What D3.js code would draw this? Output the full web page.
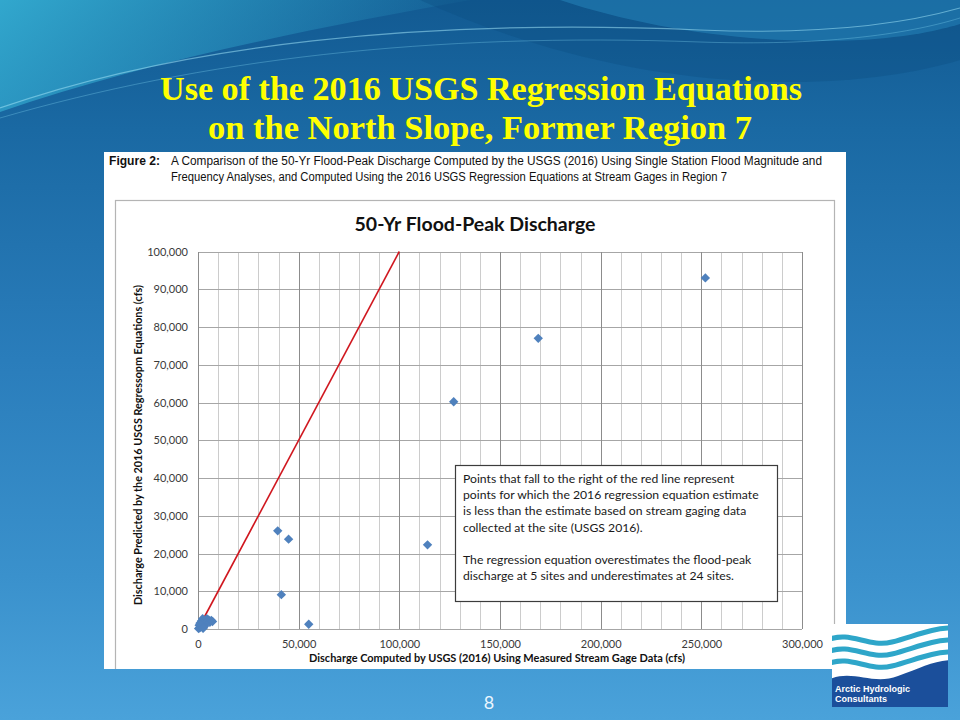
<!DOCTYPE html>
<html>
<head>
<meta charset="utf-8">
<script src="https://cdn.jsdelivr.net/npm/d3@7"></script>
<style>
  html, body { margin: 0; padding: 0; background: #1f6fa8; }
  svg { display: block; }
</style>
</head>
<body>
<svg id="slide" width="960" height="720"></svg>
<script>
// 50-yr flood peak at Region 7 stream gages (cfs):
// value from the single-station frequency analysis vs. value from the 2016 regression equations
const gagedQ50 = [
  252000, 169000, 127000, 114000, 39600, 45000, 41400, 55000,
  300, 600, 900, 1100, 1400, 1700, 2000, 2300, 2600, 2900, 3300,
  3600, 4000, 4400, 4800, 5300, 5900, 6600, 7200, 1000, 2500
];
const regressionQ50 = [
  93000, 77000, 60200, 22300, 26000, 23800, 9100, 1250,
  100, 1000, 300, 1600, 700, 2100, 1200, 2700, 300, 1900, 800,
  2300, 1500, 2700, 2000, 2400, 1800, 2300, 2000, 1300, 200
];

// One-to-one line (regression estimate equals gage estimate)
const equalityX = [0, 100000];
const equalityY = [0, 100000];

const xTickValues = [0, 50000, 100000, 150000, 200000, 250000, 300000];
const xMinorValues = d3.range(0, 300001, 10000);
const yTickValues = d3.range(0, 100001, 10000);

const slideTitle = ["Use of the 2016 USGS Regression Equations", "on the North Slope, Former Region 7"];
const figureLabel = "Figure 2:";
const captionLines = [
  "A Comparison of the 50-Yr Flood-Peak Discharge Computed by the USGS (2016) Using Single Station Flood Magnitude and",
  "Frequency Analyses, and Computed Using the 2016 USGS Regression Equations at Stream Gages in Region 7"
];
const chartTitle = "50-Yr Flood-Peak Discharge";
const xAxisTitle = "Discharge Computed by USGS (2016) Using Measured Stream Gage Data (cfs)";
const yAxisTitle = "Discharge Predicted by the 2016 USGS Regressopm Equations (cfs)";
const noteLines = [
  "Points that fall to the right of the red line represent",
  "points for which the 2016 regression equation estimate",
  "is less than the estimate based on stream gaging data",
  "collected at the site (USGS 2016).",
  "",
  "The regression equation overestimates the flood-peak",
  "discharge at 5 sites and underestimates at 24 sites."
];
const pageNumber = "8";
const logoLines = ["Arctic Hydrologic", "Consultants"];

const svg = d3.select("#slide");
const defs = svg.append("defs");

// ---------- slide background ----------
const bg = defs.append("linearGradient").attr("id", "bgGrad")
  .attr("x1", 0).attr("y1", 0).attr("x2", 0).attr("y2", 1);
[["0", "#125a92"], ["0.18", "#1a69a3"], ["0.5", "#2a7dbb"], ["0.8", "#3a91cc"], ["1", "#4aa2da"]]
  .forEach(([o, c]) => bg.append("stop").attr("offset", o).attr("stop-color", c));
svg.append("rect").attr("width", 960).attr("height", 720).attr("fill", "url(#bgGrad)");

const glow = defs.append("linearGradient").attr("id", "glowGrad")
  .attr("x1", 0).attr("y1", 0).attr("x2", 1).attr("y2", 0.3);
glow.append("stop").attr("offset", "0").attr("stop-color", "#35b0d4").attr("stop-opacity", 0.9);
glow.append("stop").attr("offset", "1").attr("stop-color", "#35b0d4").attr("stop-opacity", 0);
svg.append("path")
  .attr("d", "M0,0 L470,0 C330,25 150,60 0,112 Z")
  .attr("fill", "url(#glowGrad)");

svg.append("path")
  .attr("d", "M420,0 C520,45 640,80 780,82 C860,83 920,72 960,60 L960,0 Z")
  .attr("fill", "#0c4c82").attr("opacity", 0.35);
svg.append("path")
  .attr("d", "M560,0 C650,30 760,45 860,40 C910,37 940,30 960,24 L960,0 Z")
  .attr("fill", "#2b8ec4").attr("opacity", 0.45);

const swoosh = svg.append("g").attr("fill", "none");
swoosh.append("path").attr("d", "M0,108 C180,45 420,18 700,30 C820,35 900,25 960,8")
  .attr("stroke", "#9fe2f5").attr("stroke-opacity", 0.55).attr("stroke-width", 1.2);
swoosh.append("path").attr("d", "M0,118 C200,60 430,32 700,42 C820,46 905,35 960,18")
  .attr("stroke", "#7fd0ee").attr("stroke-opacity", 0.35).attr("stroke-width", 1);

// ---------- slide title ----------
const titleG = svg.append("g")
  .attr("font-family", "'Liberation Serif', 'DejaVu Serif', serif")
  .attr("font-weight", "bold").attr("font-size", 33).attr("fill", "#ffff00")
  .attr("text-anchor", "middle");
titleG.append("text").attr("x", 481).attr("y", 100).attr("textLength", 642)
  .attr("lengthAdjust", "spacingAndGlyphs").text(slideTitle[0]);
titleG.append("text").attr("x", 480).attr("y", 139).attr("textLength", 544)
  .attr("lengthAdjust", "spacingAndGlyphs").text(slideTitle[1]);

// ---------- figure panel ----------
const panel = { x: 104, y: 152, w: 742, h: 517 };
defs.append("clipPath").attr("id", "panelClip").append("rect")
  .attr("x", panel.x).attr("y", panel.y).attr("width", panel.w).attr("height", panel.h);
svg.append("rect").attr("x", panel.x).attr("y", panel.y).attr("width", panel.w).attr("height", panel.h)
  .attr("fill", "#ffffff");

const fig = svg.append("g").attr("clip-path", "url(#panelClip)");

const cap = fig.append("g").attr("font-family", "'Liberation Sans', Arial, sans-serif")
  .attr("font-size", 12.5).attr("fill", "#111");
cap.append("text").attr("x", 109).attr("y", 165).attr("font-weight", "bold")
  .attr("textLength", 51).attr("lengthAdjust", "spacingAndGlyphs").text(figureLabel);
cap.append("text").attr("x", 171).attr("y", 165).attr("textLength", 651)
  .attr("lengthAdjust", "spacingAndGlyphs").text(captionLines[0]);
cap.append("text").attr("x", 171).attr("y", 181).attr("textLength", 556)
  .attr("lengthAdjust", "spacingAndGlyphs").text(captionLines[1]);

// chart area border
fig.append("rect").attr("x", 115.5).attr("y", 200.5).attr("width", 719).attr("height", 490)
  .attr("fill", "#fff").attr("stroke", "#b4b4b4").attr("stroke-width", 1.2);

fig.append("text").attr("x", 475).attr("y", 231).attr("text-anchor", "middle")
  .attr("font-family", "Lato, 'Open Sans', sans-serif").attr("font-weight", "bold")
  .attr("font-size", 19.5).attr("fill", "#111").text(chartTitle);

// ---------- scales ----------
const x = d3.scaleLinear().domain([0, 300000]).range([198, 802]);
const y = d3.scaleLinear().domain([0, 100000]).range([629, 251.5]);

const grid = fig.append("g").attr("shape-rendering", "crispEdges");
grid.selectAll("line.vminor").data(xMinorValues.filter(v => v % 50000 !== 0)).join("line")
  .attr("x1", d => Math.round(x(d)) + 0.5).attr("x2", d => Math.round(x(d)) + 0.5)
  .attr("y1", y(100000)).attr("y2", y(0))
  .attr("stroke", "#cccccc").attr("stroke-width", 1);
grid.selectAll("line.h").data(yTickValues).join("line")
  .attr("x1", x(0)).attr("x2", x(300000))
  .attr("y1", d => Math.round(y(d)) + 0.5).attr("y2", d => Math.round(y(d)) + 0.5)
  .attr("stroke", "#a6a6a6").attr("stroke-width", 1);
grid.selectAll("line.vmajor").data(xTickValues).join("line")
  .attr("x1", d => Math.round(x(d)) + 0.5).attr("x2", d => Math.round(x(d)) + 0.5)
  .attr("y1", y(100000)).attr("y2", y(0))
  .attr("stroke", "#8c8c8c").attr("stroke-width", 1);

// ---------- axes ----------
const fmt = d3.format(",");
const yAxis = fig.append("g").attr("transform", `translate(${x(0)},0)`)
  .call(d3.axisLeft(y).tickValues(yTickValues).tickFormat(fmt).tickSize(0).tickPadding(10));
const xAxis = fig.append("g").attr("transform", `translate(0,${y(0)})`)
  .call(d3.axisBottom(x).tickValues(xTickValues).tickFormat(fmt).tickSize(0).tickPadding(11));
[yAxis, xAxis].forEach(a => {
  a.select(".domain").remove();
  a.selectAll("text").attr("font-family", "Lato, 'Open Sans', sans-serif")
    .attr("font-size", 11).attr("fill", "#3a3a3a");
});

fig.append("text").attr("x", 497).attr("y", 662).attr("text-anchor", "middle")
  .attr("font-family", "Lato, 'Open Sans', sans-serif").attr("font-weight", "bold")
  .attr("font-size", 11.5).attr("fill", "#111")
  .attr("textLength", 376).attr("lengthAdjust", "spacingAndGlyphs").text(xAxisTitle);
fig.append("text").attr("transform", "translate(142,445) rotate(-90)").attr("text-anchor", "middle")
  .attr("font-family", "Lato, 'Open Sans', sans-serif").attr("font-weight", "bold")
  .attr("font-size", 11.5).attr("fill", "#111")
  .attr("textLength", 320).attr("lengthAdjust", "spacingAndGlyphs").text(yAxisTitle);

// ---------- one-to-one line ----------
const line = d3.line().x(d => x(d[0])).y(d => y(d[1]));
fig.append("path").datum(d3.zip(equalityX, equalityY)).attr("d", line)
  .attr("fill", "none").attr("stroke", "#d0161e").attr("stroke-width", 1.6);

// ---------- station points ----------
const diamond = d3.symbol().type(d3.symbolSquare).size(44);
fig.append("g").selectAll("path").data(d3.zip(gagedQ50, regressionQ50)).join("path")
  .attr("d", diamond)
  .attr("transform", d => `translate(${x(d[0])},${y(d[1])}) rotate(45)`)
  .attr("fill", "#4f81bd");

// ---------- note box ----------
fig.append("rect").attr("x", 455.5).attr("y", 465.5).attr("width", 322).attr("height", 136)
  .attr("fill", "#fff").attr("stroke", "#3c3c3c").attr("stroke-width", 1.2);
fig.append("g").attr("font-family", "Lato, 'Open Sans', sans-serif").attr("font-size", 12.2)
  .attr("fill", "#1a1a1a")
  .selectAll("text").data(noteLines).join("text")
  .attr("x", 463).attr("y", (d, i) => 483 + i * 16.2).text(d => d);

// ---------- page number ----------
svg.append("text").attr("x", 489).attr("y", 709).attr("text-anchor", "middle")
  .attr("font-family", "Lato, 'Open Sans', sans-serif").attr("font-size", 18)
  .attr("fill", "#eaf6ff").text(pageNumber);

// ---------- logo ----------
const logo = svg.append("g");
defs.append("clipPath").attr("id", "logoClip").append("rect")
  .attr("x", 832).attr("y", 624).attr("width", 116).attr("height", 83);
logo.append("rect").attr("x", 832).attr("y", 624).attr("width", 116).attr("height", 83).attr("fill", "#fff");
const lw = logo.append("g").attr("clip-path", "url(#logoClip)");
[0, 12, 24].forEach(dy => {
  lw.append("path")
    .attr("d", `M828,${640 + dy} C850,${630 + dy} 868,${648 + dy} 892,${642 + dy} C915,${636 + dy} 932,${628 + dy} 952,${628 + dy}`)
    .attr("fill", "none").attr("stroke", "#2ea6c9").attr("stroke-width", 5);
});
lw.append("path")
  .attr("d", "M828,680 C852,668 872,686 898,676 C920,668 935,660 952,660 L952,710 L828,710 Z")
  .attr("fill", "#1b4f9b");
logo.append("g").attr("font-family", "'Liberation Sans', Arial, sans-serif").attr("font-weight", "bold")
  .attr("font-size", 9).attr("fill", "#fff")
  .selectAll("text").data(logoLines).join("text")
  .attr("x", 835).attr("y", (d, i) => 692 + i * 10).text(d => d);
</script>
</body>
</html>
